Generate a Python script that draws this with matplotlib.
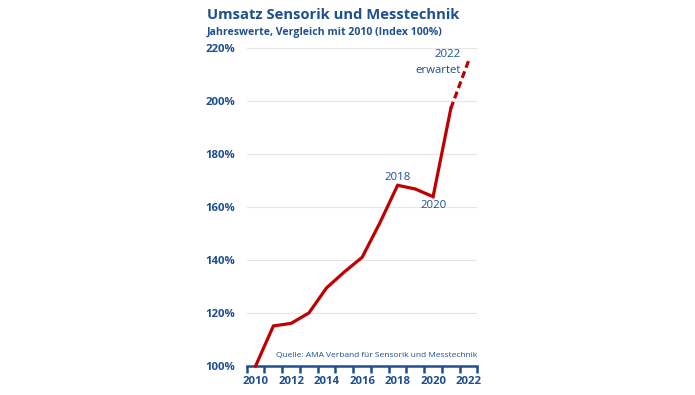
import matplotlib.pyplot as plt

plt.rcParams['font.family'] = ['Open Sans', 'DejaVu Sans']

years = list(range(2010, 2023))
umsatz = [100, 115.1, 116.1, 120.0, 129.5, 135.5, 141.0, 154.0, 168.2, 166.8, 163.9, 197.2, 215.2]
y_ticks = [100, 120, 140, 160, 180, 200, 220]
x_labels = [2010, 2012, 2014, 2016, 2018, 2020, 2022]

blue = '#1d4f91'
red = '#c00000'

fig = plt.figure(figsize=(6.95, 3.95), dpi=100)
ax = fig.add_axes([0.355, 0.0734, 0.332, 0.805])

# actual values up to 2021, forecast 2021 -> 2022 dashed
ax.plot(years[:-1], umsatz[:-1], color=red, lw=2.3, solid_joinstyle='miter', clip_on=False, zorder=3)
ax.plot(years[-2:], umsatz[-2:], color=red, lw=2.3, ls=(0, (2.2, 1.2)), clip_on=False, zorder=3)

ax.set_xlim(2009.5, 2022.5)
ax.set_ylim(100, 220)
ax.set_yticks(y_ticks)
ax.set_yticklabels([f'{v}%' for v in y_ticks])
for v in y_ticks[1:]:
    ax.axhline(v, color='#e6e6e6', lw=0.8, zorder=1)

# band axis: ticks at year boundaries, labels at band centres
ax.set_xticks([y - 0.5 for y in years + [2023]])
ax.set_xticklabels([])
ax.set_xticks(x_labels, minor=True)
ax.set_xticklabels([str(y) for y in x_labels], minor=True)
ax.tick_params(axis='x', which='major', direction='out', length=5, width=1.8, color=blue)
ax.tick_params(axis='x', which='minor', length=0, pad=7, labelsize=8.2, labelcolor=blue)
ax.tick_params(axis='y', length=0, pad=8.5, labelsize=8.2, labelcolor=blue)
for lab in ax.get_xticklabels(minor=True) + ax.get_yticklabels():
    lab.set_fontweight('bold')

for s in ['top', 'right', 'left']:
    ax.spines[s].set_visible(False)
ax.spines['bottom'].set_color(blue)
ax.spines['bottom'].set_linewidth(1.8)

ax.text(2018, 171, '2018', color=blue, fontsize=8.2, ha='center', va='center')
ax.text(2020, 160.4, '2020', color=blue, fontsize=8.2, ha='center', va='center')
ax.text(2021.55, 217.4, '2022', color=blue, fontsize=8.2, ha='right', va='center')
ax.text(2021.55, 211.7, 'erwartet', color=blue, fontsize=8.2, ha='right', va='center')
ax.text(2022.5, 102.5, 'Quelle: AMA Verband für Sensorik und Messtechnik', color=blue,
        fontsize=6, ha='right', va='bottom')

fig.text(0.298, 0.962, 'Umsatz Sensorik und Messtechnik', color=blue, fontsize=10.6,
         fontweight='bold', va='center', ha='left')
fig.text(0.298, 0.918, 'Jahreswerte, Vergleich mit 2010 (Index 100%)', color=blue, fontsize=7.6,
         fontweight='bold', va='center', ha='left')

fig.savefig('out.png', dpi=100)
